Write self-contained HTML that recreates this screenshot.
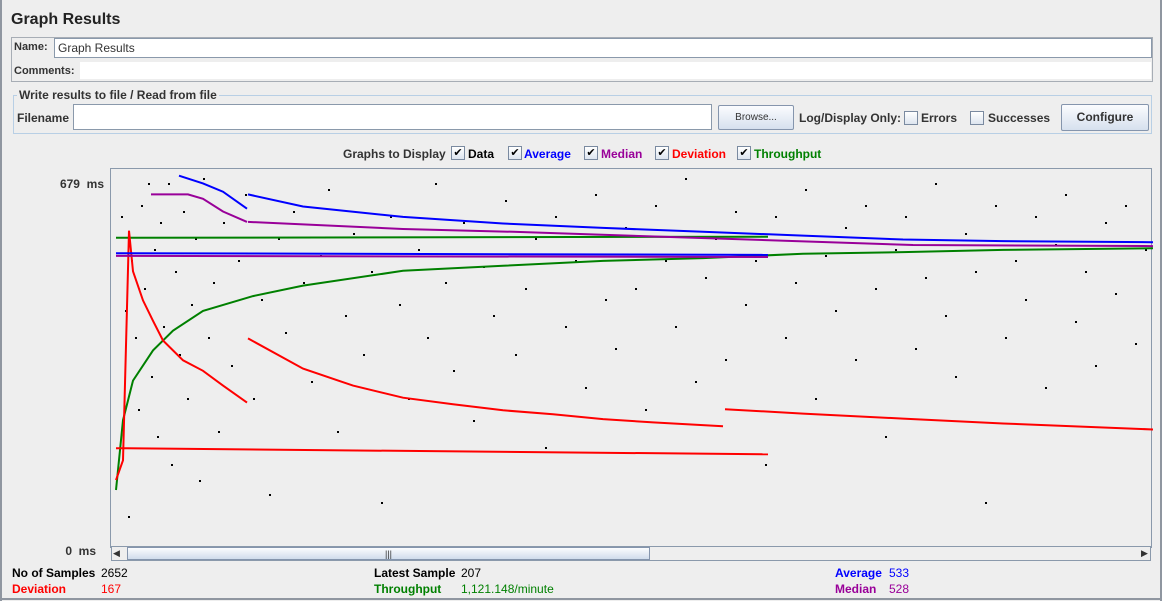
<!DOCTYPE html>
<html><head><meta charset="utf-8">
<style>
body{margin:0;width:1162px;height:601px;background:#eeeeee;font-family:"Liberation Sans",sans-serif;font-size:12px;color:#333;position:relative;overflow:hidden}
.a{position:absolute}
.fld{position:absolute;background:#fff;border:1px solid #8a99ab}
.btn{position:absolute;border:1px solid #8595ad;background:linear-gradient(#fbfcfe,#d6e0ee);text-align:center;border-radius:2px}
.cb{position:absolute;width:12px;height:12px;border:1px solid #7a8aa0;background:linear-gradient(#fff,#dde5ef);font-size:11px;line-height:12px;text-align:center;color:#000}
.b{font-weight:bold}
</style></head><body>
<div class="a" style="left:0;top:0;width:2px;height:601px;background:#8f96a0"></div>
<div class="a" style="left:1160px;top:0;width:2px;height:601px;background:#8f96a0"></div>
<div class="a" style="left:0;top:598px;width:1162px;height:2px;background:#8f96a0"></div>
<div class="a b" style="left:11px;top:11px;font-size:16px;color:#222">Graph Results</div>
<div class="a" style="left:11px;top:37px;width:1140px;height:43px;border:1px solid #a7adb5"></div>
<div class="a b" style="left:14px;top:41px;font-size:11px">Name:</div>
<div class="fld" style="left:54px;top:38px;width:1093px;height:18px;padding-left:3px;line-height:18px;font-size:12px">Graph Results</div>
<div class="a b" style="left:14px;top:65px;font-size:11px">Comments:</div>
<div class="a" style="left:80px;top:62px;width:1071px;height:17px;background:#fff"></div>
<div class="a" style="left:13px;top:95px;width:1137px;height:37px;border:1px solid #b8cfe5"></div>
<div class="a b" style="left:17px;top:88px;background:#eeeeee;padding:0 2px">Write results to file / Read from file</div>
<div class="a b" style="left:17px;top:111px">Filename</div>
<div class="fld" style="left:73px;top:104px;width:637px;height:24px"></div>
<div class="btn" style="left:718px;top:105px;width:74px;height:23px;line-height:23px;font-size:10px">Browse...</div>
<div class="a b" style="left:799px;top:111px">Log/Display Only:</div>
<div class="cb" style="left:904px;top:111px"></div>
<div class="a b" style="left:921px;top:111px">Errors</div>
<div class="cb" style="left:970px;top:111px"></div>
<div class="a b" style="left:988px;top:111px">Successes</div>
<div class="btn b" style="left:1061px;top:104px;width:86px;height:25px;line-height:25px">Configure</div>
<div class="a b" style="left:343px;top:147px">Graphs to Display</div>
<div class="cb" style="left:451px;top:146px">✔</div>
<div class="a b" style="left:468px;top:147px;color:#000">Data</div>
<div class="cb" style="left:508px;top:146px">✔</div>
<div class="a b" style="left:524px;top:147px;color:#0000ff">Average</div>
<div class="cb" style="left:584px;top:146px">✔</div>
<div class="a b" style="left:601px;top:147px;color:#990099">Median</div>
<div class="cb" style="left:655px;top:146px">✔</div>
<div class="a b" style="left:672px;top:147px;color:#ff0000">Deviation</div>
<div class="cb" style="left:737px;top:146px">✔</div>
<div class="a b" style="left:754px;top:147px;color:#008000">Throughput</div>
<div class="a b" style="left:40px;top:177px;width:64px;text-align:right">679&nbsp; ms</div>
<div class="a b" style="left:40px;top:544px;width:56px;text-align:right">0&nbsp; ms</div>
<svg class="a" style="left:110px;top:168px" width="1043" height="380" id="plot">
<rect x="0.5" y="0.5" width="1041" height="379" fill="#eeeeee" stroke="#8a99ab"/>
</svg>
<div class="a" style="left:111px;top:546px;width:1040px;height:15px;background:#eeeeee;border:1px solid #8a99ab;box-sizing:border-box"></div>
<div class="a" style="left:113px;top:548px;font-size:9px">◀</div>
<div class="a" style="left:127px;top:547px;width:523px;height:13px;border:1px solid #8595ad;box-sizing:border-box;background:linear-gradient(#fbfcfe,#d0dcec);text-align:center;font-size:9px;line-height:12px">|||</div>
<div class="a" style="left:1141px;top:548px;font-size:9px">▶</div>
<div class="a b" style="left:12px;top:566px;color:#000">No of Samples</div>
<div class="a" style="left:101px;top:566px;color:#000">2652</div>
<div class="a b" style="left:12px;top:582px;color:#ff0000">Deviation</div>
<div class="a" style="left:101px;top:582px;color:#ff0000">167</div>
<div class="a b" style="left:374px;top:566px;color:#000">Latest Sample</div>
<div class="a" style="left:461px;top:566px;color:#000">207</div>
<div class="a b" style="left:374px;top:582px;color:#008000">Throughput</div>
<div class="a" style="left:461px;top:582px;color:#008000">1,121.148/minute</div>
<div class="a b" style="left:835px;top:566px;color:#0000ff">Average</div>
<div class="a" style="left:889px;top:566px;color:#0000ff">533</div>
<div class="a b" style="left:835px;top:582px;color:#990099">Median</div>
<div class="a" style="left:889px;top:582px;color:#990099">528</div>
<script>
// sample index (x) and response ms (y)
const avg1X=[66,90,110,134];const avg1V=[674,660,645,614];
const avg2X=[135,190,290,390,490,590,690,790,890,1041];const avg2V=[640,618,599,587,579,572,565,558,555,553];
const avgFlatX=[3,655];const avgFlatV=[533,530];
const med1X=[38,75,90,110,134];const med1V=[640,640,632,609,590];
const med2X=[135,290,400,600,800,1041];const med2V=[590,577,572,560,548,546];
const medFlatX=[3,655];const medFlatV=[528,526];
const thrFlatX=[3,655];const thrFlatV=[561,563];
const thrX=[3,10,20,40,60,90,140,190,290,390,490,590,690,790,890,1041];
const thrV=[102,229,301,356,392,428,455,474,501,510,519,524,532,535,539,542];
const dev1X=[3,10,16,20,30,40,50,70,90,110,134];const dev1V=[120,156,574,500,447,410,374,338,319,292,261];
const dev2X=[135,190,240,290,340,390,440,490,540,610];const dev2V=[378,323,292,270,258,247,240,231,225,218];
const dev3X=[612,690,790,890,1041];const dev3V=[249,241,232,223,212];
const devFlatX=[3,655];const devFlatV=[178,167];
const dataX=[8,12,15,18,22,25,28,31,35,38,41,44,47,50,55,58,62,66,70,74,78,82,86,90,95,100,105,110,118,125,132,140,148,156,165,172,180,190,198,207,215,224,232,240,250,258,268,277,286,295,305,314,322,332,340,350,360,370,380,392,402,412,422,432,442,452,462,472,482,492,502,512,522,532,542,552,562,572,582,592,602,612,622,632,642,652,662,672,682,692,702,712,722,732,742,752,762,772,782,792,802,812,822,832,842,852,862,872,882,892,902,912,922,932,942,952,962,972,982,992,1002,1012,1022,1032,1040];
const dataV=[600,430,55,520,380,250,620,470,660,310,540,200,590,400,660,150,500,350,610,270,440,560,120,670,380,480,210,590,330,520,640,270,450,95,560,390,610,480,300,530,650,210,420,570,350,500,80,600,440,270,540,380,660,480,320,590,230,510,420,630,350,470,560,180,600,400,520,290,640,450,360,580,470,250,620,520,400,670,300,490,560,340,610,440,520,150,600,380,480,650,270,530,430,580,340,620,470,200,540,600,360,490,660,420,310,570,500,80,620,380,520,450,600,290,550,640,410,500,330,590,460,620,370,540,350];
const svg=document.getElementById('plot');const NS='http://www.w3.org/2000/svg';
const X0=3,H=378,MAX=679;
const sx=i=>X0+i,sy=v=>H-v*(H-5)/MAX;
function line(xs,vs,color,name){const p=document.createElementNS(NS,'polyline');
p.setAttribute('points',xs.map((x,i)=>sx(x)+','+sy(vs[i]).toFixed(1)).join(' '));
p.setAttribute('fill','none');p.setAttribute('stroke',color);p.setAttribute('stroke-width','2');


svg.appendChild(p);}
dataX.forEach((x,i)=>{const r=document.createElementNS(NS,'rect');r.setAttribute('x',sx(x));r.setAttribute('y',sy(dataV[i]).toFixed(0));r.setAttribute('width','2');r.setAttribute('height','2');r.setAttribute('fill','#000');


svg.appendChild(r);});
line(thrFlatX,thrFlatV,'#008000','throughput-line-flat');
line(thrX,thrV,'#008000','throughput-line');
line(devFlatX,devFlatV,'#ff0000','deviation-line-flat');
line(dev1X,dev1V,'#ff0000','deviation-line-1');
line(dev2X,dev2V,'#ff0000','deviation-line-2');
line(dev3X,dev3V,'#ff0000','deviation-line-3');
line(medFlatX,medFlatV,'#990099','median-line-flat');
line(med1X,med1V,'#990099','median-line-1');
line(med2X,med2V,'#990099','median-line-2');
line(avgFlatX,avgFlatV,'#0000ff','average-line-flat');
line(avg1X,avg1V,'#0000ff','average-line-1');
line(avg2X,avg2V,'#0000ff','average-line-2');
</script>
</body></html>
